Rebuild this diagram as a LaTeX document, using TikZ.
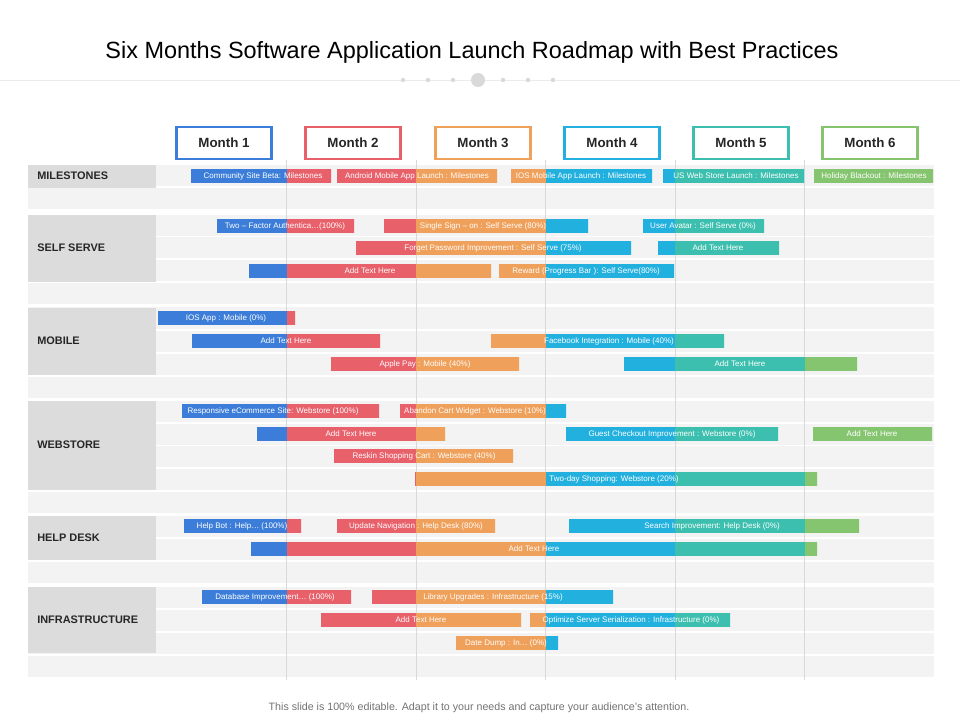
\documentclass[tikz,border=0pt]{standalone}
\usepackage{fontspec}
\setmainfont{Liberation Sans}
\definecolor{cB}{HTML}{3B7DD8}
\definecolor{cR}{HTML}{E8606A}
\definecolor{cO}{HTML}{EFA05A}
\definecolor{cC}{HTML}{22B0DE}
\definecolor{cT}{HTML}{3CBFAE}
\definecolor{cG}{HTML}{86C56F}
\definecolor{band}{HTML}{F3F3F3}
\definecolor{catcell}{HTML}{DCDCDC}
\tikzset{
  bartext/.style={text=white,font=\fontsize{6}{7}\selectfont,inner sep=0.75pt},
  catlabel/.style={anchor=west,font=\bfseries\fontsize{8.2}{10}\selectfont,text=black!85,inner sep=0.75pt},
  monthbox/.style={draw=#1,line width=2pt,fill=white,minimum width=71pt,minimum height=24pt,font=\bfseries\fontsize{10}{12}\selectfont,text=black!85}
}
% coloured bar: y, x1, x2, text x, text
\newcommand\gbar[5]{%
  \begin{scope}
    \clip (#2,#1-7) rectangle (#3,#1+7);
    \foreach \c [count=\i from 0] in {cB,cR,cO,cC,cT,cG}
      \fill[\c] ({157+129.5*\i},#1-7) rectangle ({157+129.5*(\i+1)},#1+7);
  \end{scope}
  \node[bartext] at (#4,#1) {#5};}
\begin{document}
\begin{tikzpicture}[x=0.75pt,y=0.75pt,yscale=-1,xscale=1]
\useasboundingbox (0,0) rectangle (960,720);
\fill[white] (0,0) rectangle (960,720);

% Title
\node (title) at (472,52) {\fontsize{17.6}{20}\selectfont Six Months Software Application Launch Roadmap with Best Practices};
\draw[black!8] (0,80) -- (960,80);
\foreach \x in {403,428,453,503,528,553} \fill[black!15] (\x,80) circle (2.2);
\fill[black!15] (478,80) circle (7);

% Row bands
\foreach \y in {176,199,226,248,271,294,318,341,364,387,411,434,456,479,502,526,549,572,597,620,643,666}
  \fill[band] (28,\y-10.5) rectangle (934,\y+10.5);

% Month grid
\foreach \x in {286.5,416,545.5,675,804.5}
  \draw[black!15] (\x,160) -- (\x,680);

% Category cells
\fill[catcell] (28,165) rectangle (156,188);
\fill[catcell] (28,215) rectangle (156,282);
\fill[catcell] (28,308) rectangle (156,375);
\fill[catcell] (28,401) rectangle (156,490);
\fill[catcell] (28,516) rectangle (156,560);
\fill[catcell] (28,587) rectangle (156,653);
\node[catlabel] (milestones) at (36,176) {MILESTONES};
\node[catlabel] (selfserve) at (36,248) {SELF SERVE};
\node[catlabel] (mobile) at (36,341) {MOBILE};
\node[catlabel] (webstore) at (36,445) {WEBSTORE};
\node[catlabel] (helpdesk) at (36,538) {HELP DESK};
\node[catlabel] (infra) at (36,620) {INFRASTRUCTURE};

% Month headers
\foreach \x/\c [count=\m] in {224/cB,353/cR,483/cO,612/cC,741/cT,870/cG}
  \node[monthbox=\c] (month\m) at (\x,143) {Month \m};

% Milestones
\gbar{176}{191}{331}{263}{Community Site Beta: Milestones}
\gbar{176}{337}{497}{417}{Android Mobile App Launch : Milestones}
\gbar{176}{511}{652}{581}{IOS Mobile App Launch : Milestones}
\gbar{176}{663}{804}{736}{US Web Store Launch : Milestones}
\gbar{176}{814}{933}{874}{Holiday Blackout : Milestones}
% Self serve
\gbar{226}{217}{354}{285}{Two – Factor Authentica…(100\%)}
\gbar{226}{384}{588}{483}{Single Sign – on : Self Serve (80\%)}
\gbar{226}{643}{764}{703}{User Avatar : Self Serve (0\%)}
\gbar{248}{356}{631}{493}{Forget Password Improvement : Self Serve (75\%)}
\gbar{248}{658}{779}{718}{Add Text Here}
\gbar{271}{249}{491}{370}{Add Text Here}
\gbar{271}{499}{674}{586}{Reward (Progress Bar ): Self Serve(80\%)}
% Mobile
\gbar{318}{158}{295}{226}{IOS App : Mobile (0\%)}
\gbar{341}{192}{380}{286}{Add Text Here}
\gbar{341}{491}{724}{609}{Facebook Integration : Mobile (40\%)}
\gbar{364}{331}{519}{425}{Apple Pay : Mobile (40\%)}
\gbar{364}{624}{857}{740}{Add Text Here}
% Webstore
\gbar{411}{182}{379}{273}{Responsive eCommerce Site: Webstore (100\%)}
\gbar{411}{400}{566}{475}{Abandon Cart Widget : Webstore (10\%)}
\gbar{434}{257}{445}{351}{Add Text Here}
\gbar{434}{566}{778}{672}{Guest Checkout Improvement : Webstore (0\%)}
\gbar{434}{813}{932}{872}{Add Text Here}
\gbar{456}{334}{513}{424}{Reskin Shopping Cart : Webstore (40\%)}
\gbar{479}{415}{817}{614}{Two-day Shopping: Webstore (20\%)}
% Help desk
\gbar{526}{184}{301}{242}{Help Bot : Help… (100\%)}
\gbar{526}{337}{495}{416}{Update Navigation : Help Desk (80\%)}
\gbar{526}{569}{859}{712}{Search Improvement: Help Desk (0\%)}
\gbar{549}{251}{817}{534}{Add Text Here}
% Infrastructure
\gbar{597}{202}{351}{275}{Database Improvement… (100\%)}
\gbar{597}{372}{613}{493}{Library Upgrades : Infrastructure (15\%)}
\gbar{620}{321}{521}{421}{Add Text Here}
\gbar{620}{530}{730}{631}{Optimize Server Serialization : Infrastructure (0\%)}
\gbar{643}{456}{558}{506}{Date Dump : In… (0\%)}

% Footer
\node[text=black!55,font=\fontsize{8}{9}\selectfont] (footer) at (479,708) {This slide is 100\% editable. Adapt it to your needs and capture your audience's attention.};
\end{tikzpicture}
\end{document}
